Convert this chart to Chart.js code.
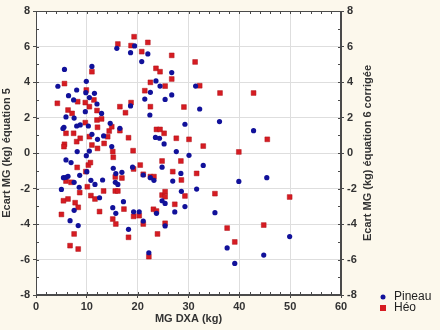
<!DOCTYPE html>
<html>
<head>
<meta charset="utf-8">
<script src="https://cdn.jsdelivr.net/npm/chart.js@4/dist/chart.umd.min.js"></script>
<style>
    html, body { margin: 0; padding: 0; background: #fcf8ec; }
    #wrap { width: 440px; height: 330px; }
</style>
</head>
<body>
<div id="wrap"><canvas id="scatterChart" width="440" height="330"></canvas></div>
<script>
// Données : [MG DXA, écart]
const pineau = [
    [4.3, 3.76], [5.6, 4.71], [6.4, 3.23], [5.9, 2.03], [5.5, 1.45], [5.3, 1.38],
    [7.4, 2.99], [8.0, 3.55], [7.5, 1.97], [8.0, 1.52], [8.7, 1.58], [9.9, 4.04],
    [11.0, 4.88], [9.8, 3.4], [11.5, 3.36], [10.5, 3.12], [9.7, 2.33], [12.0, 2.76],
    [12.9, 2.23], [10.3, 1.52], [11.0, 1.05], [12.1, 0.77], [13.3, 0.96], [14.6, 1.67],
    [14.9, 0.36], [9.9, -0.15], [10.5, 0.11], [8.1, 0.08], [5.9, -0.39], [6.9, -0.54],
    [15.9, 5.9], [18.6, 5.65], [19.4, 6.03], [20.8, 5.15], [22.0, 5.58], [21.4, 3.04],
    [22.4, 2.14], [22.5, 3.42], [23.6, 4.06], [24.4, 3.77], [25.4, 3.02], [26.7, 4.53],
    [26.7, 3.27], [23.5, 0.88], [24.3, 0.83], [25.2, 0.51], [27.6, 0.08], [30.1, -0.13],
    [29.3, 1.62], [31.4, 3.77], [32.2, 2.48], [36.1, 1.77], [42.8, 1.26], [18.6, 2.65],
    [16.5, 1.39], [19.0, -0.8], [24.8, -0.8], [32.9, -0.7], [15.2, -0.86],
    [5.0, -2.05], [5.4, -1.39], [5.9, -1.37], [6.3, -1.31], [7.5, -1.65], [8.5, -1.93],
    [8.6, -1.26], [10.0, -1.05], [10.8, -1.54], [11.6, -1.77], [12.5, -2.52], [13.1, -1.52],
    [7.5, -3.23], [6.7, -3.81], [8.3, -4.09], [15.7, -1.16], [15.6, -1.65], [16.1, -1.77],
    [16.9, -1.09], [15.1, -3.08], [15.7, -3.4], [17.2, -2.74], [18.2, -4.3], [19.2, -3.31],
    [20.3, -3.31], [21.1, -3.83], [21.1, -1.24], [22.5, -1.39], [23.2, -1.54], [22.2, -5.62],
    [24.8, -2.69], [25.4, -2.84], [23.7, -3.4], [25.4, -4.11], [26.9, -1.58], [27.3, -3.32],
    [28.5, -1.15], [28.6, -2.16], [29.3, -3.02], [31.6, -2.03], [35.2, -3.36], [39.9, -1.6],
    [45.4, -1.39], [49.9, -4.71], [44.8, -5.75], [39.1, -6.22], [37.6, -5.35]
];

const heo = [
    [4.2, 2.8], [5.6, 3.91], [6.3, 2.42], [7.1, 2.23], [5.9, 1.11], [5.6, 0.49],
    [5.5, 0.36], [7.4, 1.11], [8.2, 2.89], [8.0, 0.64], [8.7, 0.83], [9.9, 3.55],
    [9.7, 2.84], [10.5, 2.61], [9.7, 1.71], [10.5, 0.92], [11.0, 4.58], [11.4, 2.99],
    [12.0, 2.39], [12.0, 1.86], [12.1, 1.45], [12.9, 1.92], [11.0, 0.45], [12.1, 0.26],
    [13.4, 0.54], [14.1, 0.92], [14.4, 1.24], [14.9, 1.48], [15.1, 0.08], [15.2, -0.24],
    [16.1, 6.14], [18.7, 6.05], [19.3, 6.55], [20.8, 5.71], [22.0, 6.23], [16.5, 2.61],
    [17.6, 2.27], [18.7, 2.84], [16.5, 1.26], [18.2, 0.86], [19.1, 0.13], [21.4, 3.51],
    [22.5, 3.98], [22.5, 2.61], [23.6, 4.77], [24.4, 4.58], [25.4, 3.77], [26.7, 5.5],
    [26.7, 4.17], [23.7, 1.33], [24.4, 1.33], [25.2, 1.11], [27.6, 0.83], [29.1, 2.59],
    [30.1, 0.77], [31.3, 5.13], [32.2, 3.79], [32.9, 0.39], [36.2, 3.38], [42.8, 3.38],
    [45.5, 0.77], [39.9, 0.06],
    [5.0, -3.46], [5.4, -2.69], [5.9, -1.58], [6.3, -2.59], [6.9, -1.65], [7.7, -2.8],
    [8.3, -3.06], [8.6, -2.23], [8.1, -0.81], [6.7, -5.22], [7.5, -4.56], [8.3, -5.41],
    [9.8, -1.05], [10.1, -1.9], [10.3, -0.68], [10.7, -0.54], [10.8, -2.4], [11.6, -2.59],
    [12.5, -3.3], [13.3, -2.14], [15.1, -3.72], [15.6, -1.35], [15.7, -4.0], [15.6, -2.14],
    [16.1, -2.14], [16.9, -1.41], [17.3, -3.16], [18.2, -4.75], [19.2, -0.9], [19.2, -3.57],
    [20.3, -3.53], [20.5, -0.68], [21.1, -1.2], [21.1, -4.0], [22.2, -5.84], [22.5, -1.33],
    [23.2, -1.33], [23.1, -3.17], [23.7, -3.27], [23.9, -4.56], [24.8, -0.45], [24.8, -2.37],
    [25.4, -2.18], [25.4, -2.46], [25.4, -3.96], [26.9, -1.05], [27.3, -2.89], [28.5, -0.45],
    [28.6, -1.52], [29.3, -2.42], [31.6, -1.15], [35.2, -2.29], [49.9, -2.48], [37.6, -4.23],
    [44.8, -4.06], [39.1, -5.01]
];

const seriesNames = ["Pineau", "Héo"];
const xRange = [0, 60];
const yRange = [-8, 8];
const xTitle = "MG DXA (kg)";
const yTitleLeft = "Ecart MG (kg) équation 5";
const yTitleRight = "Ecart MG (kg) équation 6 corrigée";

const toPoints = (arr) => arr.map(([x, y]) => ({ x, y }));
const BLUE = "#11119a";
const RED = "#d61c22";
const FONT = "'Liberation Sans', Arial, sans-serif";

// fond blanc de la zone, cadre, petites graduations, titre droit et légende
const decor = {
    id: "decor",
    beforeDraw(chart) {
        const { ctx, chartArea: a } = chart;
        ctx.save();
        ctx.fillStyle = "#ffffff";
        ctx.fillRect(a.left, a.top, a.right - a.left, a.bottom - a.top);
        ctx.restore();
    },
    afterDraw(chart) {
        const { ctx, chartArea: a, scales } = chart;
        ctx.save();
        ctx.strokeStyle = "#4a4a4a";
        ctx.lineWidth = 1;
        ctx.strokeRect(a.left + 0.5, a.top + 0.5, a.right - a.left - 1, a.bottom - a.top - 1);

        // graduations mineures
        ctx.beginPath();
        for (let v = xRange[0]; v <= xRange[1]; v += 2) {
            const px = Math.round(scales.x.getPixelForValue(v)) + 0.5;
            ctx.moveTo(px, a.bottom); ctx.lineTo(px, a.bottom - 3);
            ctx.moveTo(px, a.top); ctx.lineTo(px, a.top + 3);
        }
        for (let v = yRange[0]; v <= yRange[1]; v += 1) {
            const py = Math.round(scales.y.getPixelForValue(v)) + 0.5;
            ctx.moveTo(a.left, py); ctx.lineTo(a.left + 3, py);
            ctx.moveTo(a.right, py); ctx.lineTo(a.right - 3, py);
        }
        ctx.stroke();

        // titre de l'axe droit, lu de bas en haut
        ctx.fillStyle = "#333333";
        ctx.font = "bold 11px " + FONT;
        ctx.textAlign = "center";
        ctx.textBaseline = "middle";
        ctx.translate(368, (a.top + a.bottom) / 2);
        ctx.rotate(-Math.PI / 2);
        ctx.fillText(yTitleRight, 0, 0);
        ctx.restore();

        // légende
        ctx.save();
        ctx.font = "12px " + FONT;
        ctx.textBaseline = "middle";
        ctx.fillStyle = BLUE;
        ctx.beginPath();
        ctx.arc(383, 297, 2.5, 0, Math.PI * 2);
        ctx.fill();
        ctx.fillStyle = RED;
        ctx.fillRect(380, 305, 6, 6);
        ctx.fillStyle = "#222222";
        ctx.fillText(seriesNames[0], 394, 297);
        ctx.fillText(seriesNames[1], 394, 308);
        ctx.restore();
    },
};

const tickFont = { family: FONT, size: 11, weight: "bold" };
const titleFont = { family: FONT, size: 11, weight: "bold" };

new Chart(document.getElementById("scatterChart"), {
    type: "scatter",
    data: {
        datasets: [
            {
                label: seriesNames[0],
                data: toPoints(pineau),
                pointStyle: "circle",
                pointRadius: 2.6,
                backgroundColor: BLUE,
                borderColor: BLUE,
                borderWidth: 0,
            },
            {
                label: seriesNames[1],
                data: toPoints(heo),
                pointStyle: "rect",
                pointRadius: 3.4,
                backgroundColor: RED,
                borderColor: "#b01018",
                borderWidth: 0.5,
            },
        ],
    },
    options: {
        responsive: false,
        animation: false,
        layout: { padding: { top: 11, left: 0, right: 64, bottom: 4 } },
        plugins: {
            legend: { display: false },
            tooltip: { enabled: false },
        },
        scales: {
            x: {
                type: "linear",
                position: "bottom",
                min: xRange[0],
                max: xRange[1],
                ticks: { stepSize: 10, color: "#333", font: tickFont, padding: 2 },
                grid: { color: "#dedede", tickLength: 3, tickColor: "#4a4a4a" },
                border: { color: "#4a4a4a" },
                title: { display: true, text: xTitle, color: "#333", font: titleFont, padding: { top: 2, bottom: 0 } },
                afterFit(scale) { scale.height = 31; },
            },
            y: {
                position: "left",
                min: yRange[0],
                max: yRange[1],
                ticks: { stepSize: 2, color: "#333", font: tickFont, padding: 3 },
                grid: { color: "#dedede", tickLength: 3, tickColor: "#4a4a4a" },
                border: { color: "#4a4a4a" },
                title: { display: true, text: yTitleLeft, color: "#333", font: titleFont, padding: { top: 0, bottom: 2 } },
                afterFit(scale) { scale.width = 36; },
            },
            y2: {
                position: "right",
                min: yRange[0],
                max: yRange[1],
                ticks: { stepSize: 2, color: "#333", font: tickFont, padding: 3 },
                grid: { drawOnChartArea: false, tickLength: 3, tickColor: "#4a4a4a" },
                border: { color: "#4a4a4a" },
                afterFit(scale) { scale.width = 35; },
            },
        },
    },
    plugins: [decor],
});
</script>
</body>
</html>
